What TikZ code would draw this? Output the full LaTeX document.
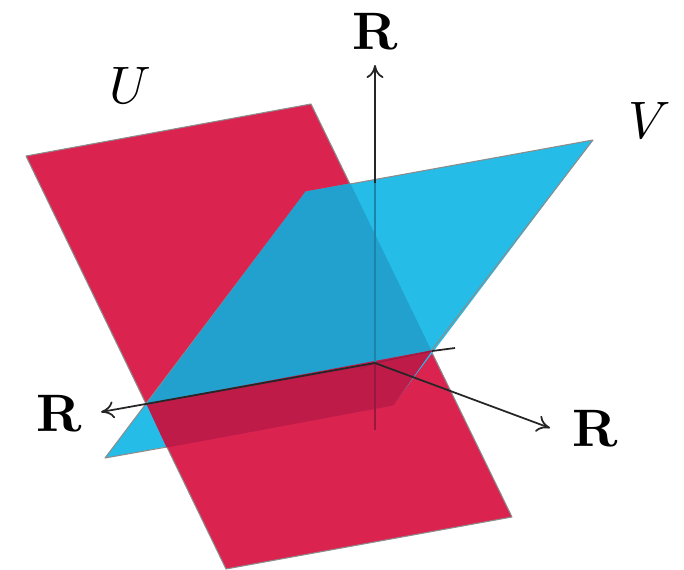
\documentclass[tikz,border=0pt]{standalone}
\usepackage{amsmath,amssymb}
\usetikzlibrary{arrows.meta,positioning}
\definecolor{planered}{HTML}{DB2350}
\definecolor{planeblue}{HTML}{25BDE7}
\definecolor{upperlap}{HTML}{22A0CE}
\definecolor{lowerlap}{HTML}{BE1B49}
\definecolor{thrublue}{HTML}{1B84A8}
\definecolor{thrured}{HTML}{98193F}
\begin{document}
\begin{tikzpicture}[
  x=0.02cm, y=-0.02cm,
  plane/.style = {draw=gray!90, line width=0.6pt, line join=round},
  lap/.style   = {line width=0.6pt, line join=round},
  axis/.style  = {line width=1pt, black!85},
  arr/.style   = {-{Computer Modern Rightarrow[length=2.6mm,width=3.4mm]}, axis},
  lab/.style   = {scale=3, inner sep=0pt},
]
  \useasboundingbox (0,0) rectangle (684,569);

  % the two planes
  \fill[planered, plane] (26,156) -- (311,104) -- (512,517) -- (226,569) -- cycle;
  \fill[planeblue] (306,192) -- (593,140) -- (393,405) -- (105,458) -- cycle;
  \draw[plane] (431,351) -- (593,140) -- (306,192) -- (105,458) -- (167,447);
  \filldraw[upperlap, lap] (306,192) -- (350,184) -- (431,351) -- (147,404) -- cycle;
  \filldraw[lowerlap, lap] (147,404) -- (431,351) -- (393,405) -- (167,447) -- cycle;

  \coordinate (origin) at (375,363);
  \coordinate (top)    at (375,65);
  \coordinate (enter)  at (375,183);
  \coordinate (bottom) at (375,430);
  \coordinate (left)   at (101,412);
  \coordinate (right)  at (550,428);
  \coordinate (cross)  at (432,351);
  \coordinate (stub)   at (455,348);

  % axes
  \draw[arr] (enter) -- (top);
  \draw[line width=0.8pt, thrublue] (enter) -- (origin);
  \draw[line width=0.8pt, thrured] (origin) -- (bottom);
  \draw[line width=0.5pt, thrured, opacity=0.6] (361,369) -- (origin) -- (389,369);
  \draw[line width=0.6pt, thrured] (origin) -- (cross);
  \draw[axis] (cross) -- (stub);
  \draw[arr] (origin) -- (left);
  \draw[arr] (origin) -- (right);

  % labels
  \node[lab] (rtop)   at (375,31)  {$\mathbf{R}$};
  \node[lab] (rleft)  at (59,413)  {$\mathbf{R}$};
  \node[lab] (rright) at (595,428) {$\mathbf{R}$};
  \node[lab] (u)      at (130,85)  {$U$};
  \node[lab] (v)      at (650,120) {$V$};
\end{tikzpicture}
\end{document}
